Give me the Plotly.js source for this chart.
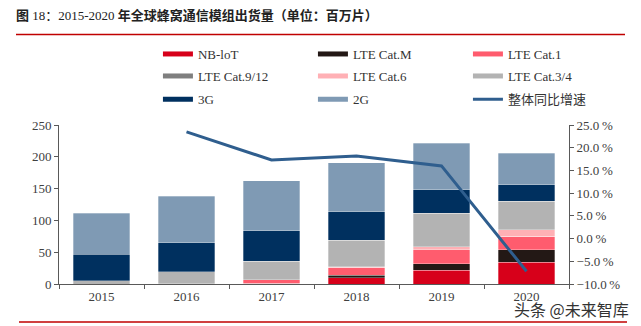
<!DOCTYPE html>
<html><head><meta charset="utf-8">
<script src="https://cdn.plot.ly/plotly-3.0.1.min.js"></script>
<style>html,body{margin:0;padding:0;background:#fff}</style></head>
<body>
<div id="chart" style="width:641px;height:326px"></div>
<script>
// ---- data ----
var years = ['2015', '2016', '2017', '2018', '2019', '2020'];
var nbiot  = [0, 0.5, 1.5, 9.5, 22, 34.5];
var catM   = [0, 0, 0, 4, 10, 19.5];
var cat1   = [0, 0, 5.5, 13, 22, 21];
var cat912 = [0, 0, 0, 0, 0, 0];
var cat6   = [0, 0, 0, 1, 4.5, 10];
var cat34  = [5.5, 18.5, 28.5, 41, 52.5, 45];
var g3     = [41.5, 46, 48.5, 45.5, 37, 25.7];
var g2     = [64.5, 73, 78, 77, 73, 50];
var growth = [null, 23.5, 17.3, 18.2, 16.0, -7.2];
var seriesNames = ['NB-loT', 'LTE Cat.M', 'LTE Cat.1', 'LTE Cat.9/12', 'LTE Cat.6', 'LTE Cat.3/4', '3G', '2G'];
var lineName = '整体同比增速';
var titleText = '<b>图</b> 18：2015-2020 <b>年全球蜂窝通信模组出货量（单位：百万片）</b>';
var watermark = '头条 @未来智库';

// ---- styles ----
var colors = ['#D7001A', '#231815', '#FF5C6E', '#7F7F7F', '#FFB0B5', '#B3B3B3', '#00305F', '#7F9AB4'];
var lineColor = '#2F5E8E';
var serif = 'Liberation Serif, Noto Sans CJK SC, serif';
var tickColor = '#404040';

var stacks = [nbiot, catM, cat1, cat912, cat6, cat34, g3, g2];
var legendIds = ['legend', 'legend', 'legend', 'legend2', 'legend2', 'legend2', 'legend3', 'legend3'];

var traces = [];
stacks.forEach(function (vals, i) {
  traces.push({
    type: 'bar', x: years, y: vals, name: seriesNames[i],
    marker: {color: colors[i], line: {color: 'rgba(255,255,255,0.6)', width: 0.5}},
    showlegend: false, hoverinfo: 'skip'
  });
});
traces.push({
  type: 'scatter', mode: 'lines', x: years, y: growth, yaxis: 'y2',
  name: lineName, line: {color: lineColor, width: 3}, showlegend: false, connectgaps: false
});
// legend entries (wide rectangle swatches)
stacks.forEach(function (vals, i) {
  traces.push({
    type: 'scatter', mode: 'lines', x: [null], y: [null], name: seriesNames[i],
    line: {color: colors[i], width: 5}, legend: legendIds[i], showlegend: true
  });
});
traces.push({
  type: 'scatter', mode: 'lines', x: [null], y: [null], name: lineName,
  line: {color: lineColor, width: 3}, legend: 'legend3', showlegend: true
});

var legBase = {
  orientation: 'h', xanchor: 'left', yanchor: 'middle', x: 0.194,
  entrywidth: 110, entrywidthmode: 'pixels', bgcolor: 'rgba(0,0,0,0)',
  font: {family: serif, size: 13, color: '#333333'}, itemclick: false, traceorder: 'normal'
};
function leg(y) { var o = JSON.parse(JSON.stringify(legBase)); o.y = y; return o; }

var layout = {
  width: 641, height: 326,
  margin: {l: 59, r: 72, t: 125, b: 42},
  paper_bgcolor: '#ffffff', plot_bgcolor: '#ffffff',
  barmode: 'stack', bargap: 0.33,
  showlegend: true,
  legend: leg(1.4465), legend2: leg(1.308), legend3: leg(1.1616),
  title: {
    text: titleText, xref: 'container', yref: 'container', x: 16 / 641, xanchor: 'left',
    y: 1 - 15 / 326, yanchor: 'middle',
    font: {family: serif, size: 13, color: '#222222'}
  },
  xaxis: {
    type: 'category', showline: true, linecolor: '#595959', linewidth: 1,
    ticks: 'outside', tickson: 'boundaries', ticklen: 4, tickcolor: '#595959',
    tickfont: {family: serif, size: 13, color: tickColor}, showgrid: false, zeroline: false, fixedrange: true
  },
  yaxis: {
    range: [0, 250], dtick: 50, showline: true, linecolor: '#595959', linewidth: 1,
    ticks: 'outside', ticklen: 4, tickcolor: '#595959', showgrid: false, zeroline: false,
    tickfont: {family: serif, size: 13, color: tickColor}
  },
  yaxis2: {
    overlaying: 'y', side: 'right', range: [-10, 25], dtick: 5, tickformat: '.1f', ticksuffix: '\u2009%',
    showline: true, linecolor: '#595959', linewidth: 1, ticks: 'outside', ticklen: 4, tickcolor: '#595959',
    showgrid: false, zeroline: false, tickfont: {family: serif, size: 13, color: tickColor}
  },
  shapes: [
    {type: 'line', xref: 'paper', yref: 'paper', x0: (16 - 59) / 510, x1: (625 - 59) / 510,
     y0: (284 - 34.5) / 159, y1: (284 - 34.5) / 159, line: {color: '#C00000', width: 1.5}},
    {type: 'line', xref: 'paper', yref: 'paper', x0: (19 - 59) / 510, x1: (627 - 59) / 510,
     y0: (284 - 322) / 159, y1: (284 - 322) / 159, line: {color: '#C00000', width: 1.5}}
  ],
  annotations: [
    {text: watermark, xref: 'paper', yref: 'paper', x: (631 - 59) / 510, xanchor: 'right',
     y: (284 - 309) / 159, yanchor: 'middle', showarrow: false,
     font: {family: 'Noto Sans CJK SC, sans-serif', size: 16, color: '#333333'}}
  ]
};

Plotly.newPlot('chart', traces, layout, {displayModeBar: false, staticPlot: true});
</script>
</body></html>
